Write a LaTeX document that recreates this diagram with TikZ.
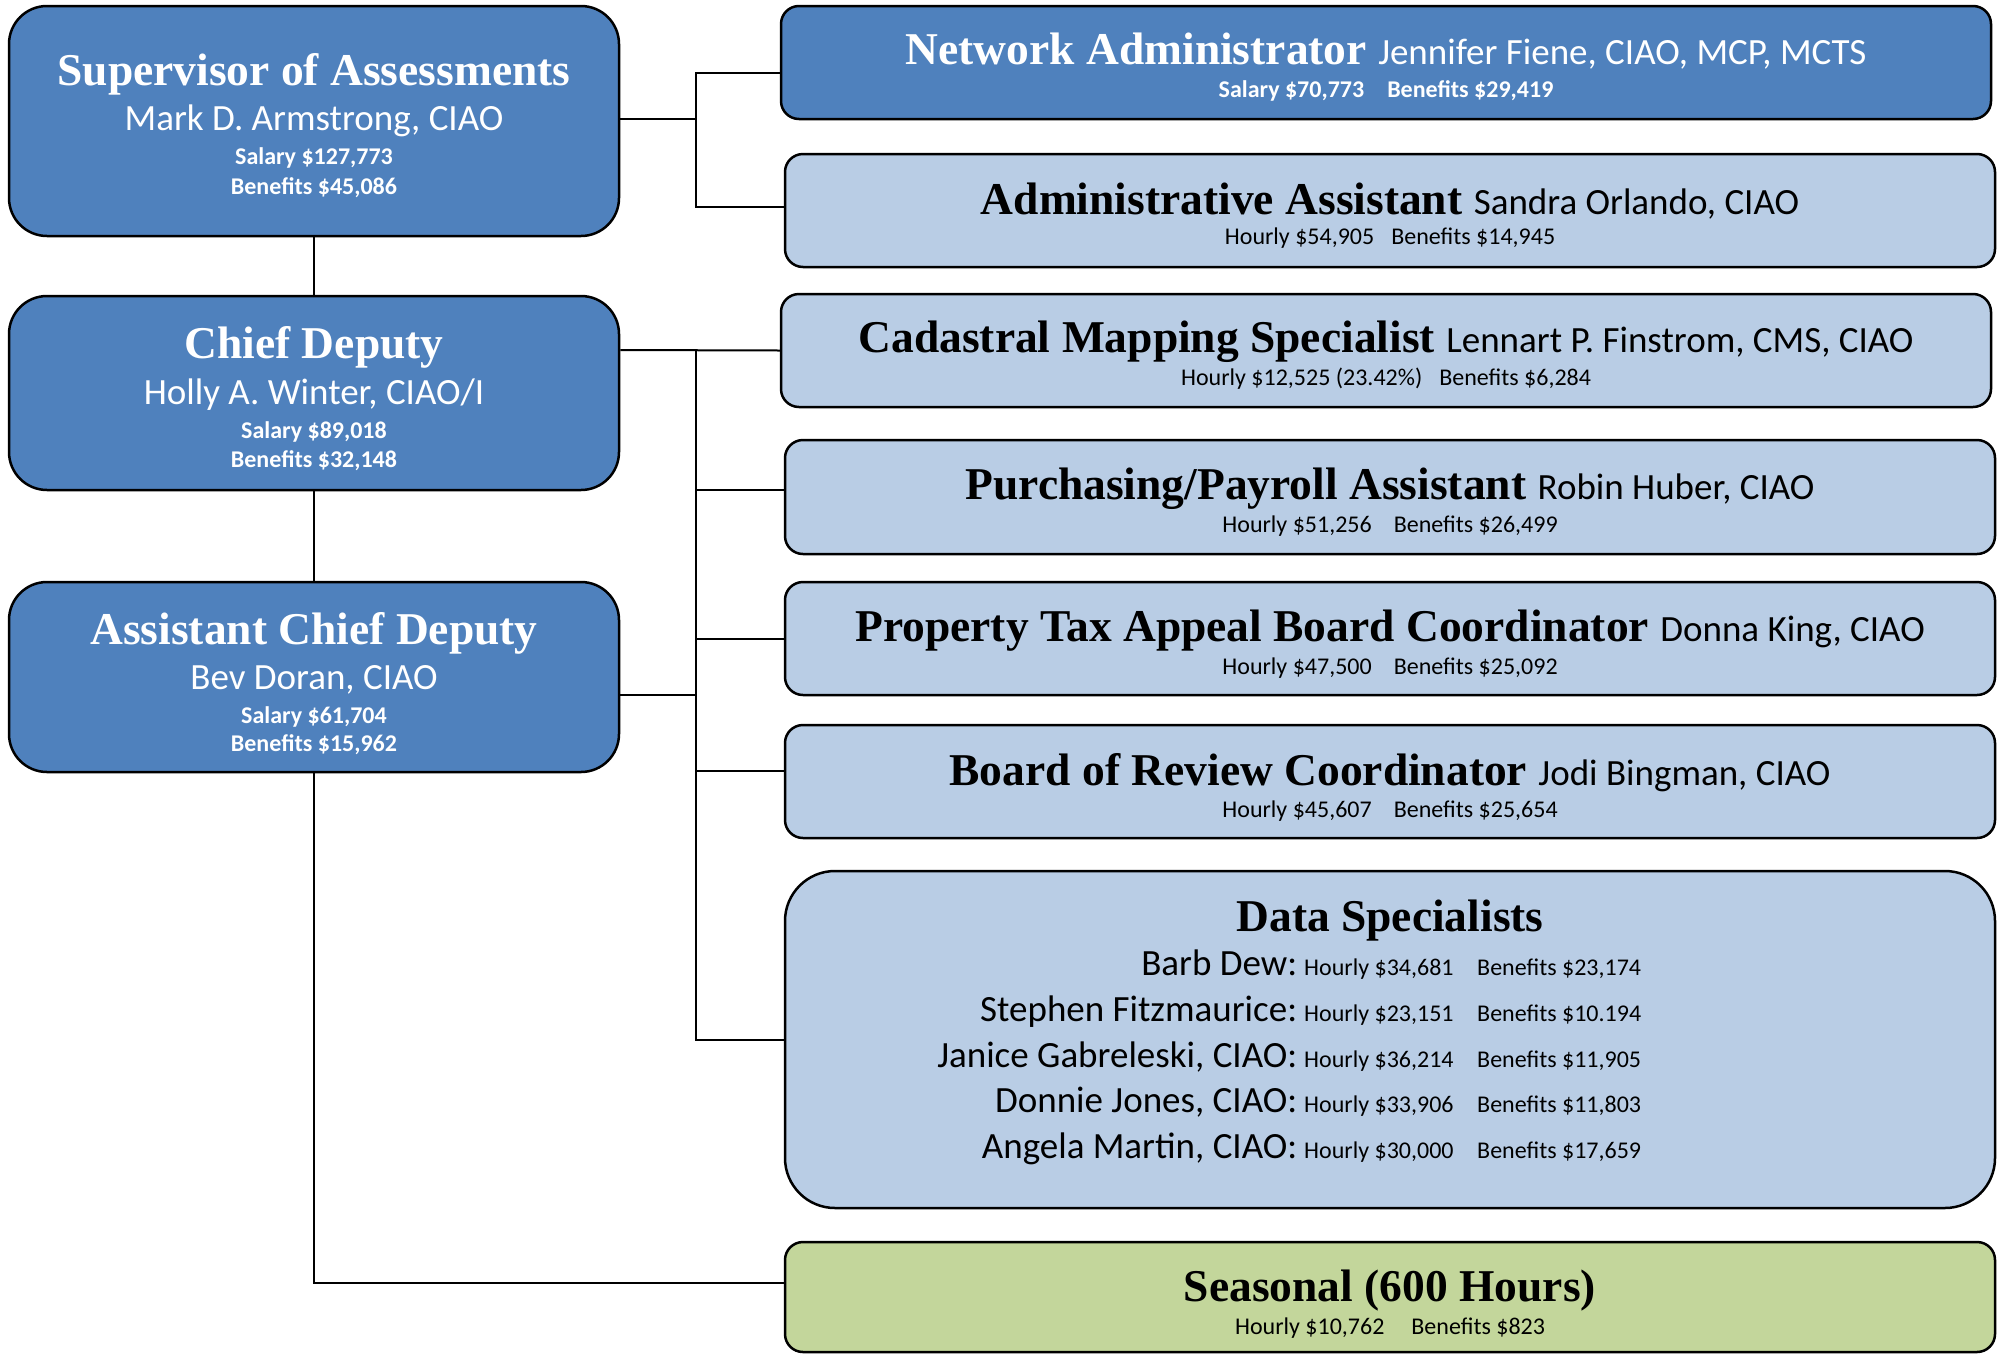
\documentclass[tikz,border=0pt]{standalone}
\usepackage{fontspec}
\setmainfont{Liberation Serif}
\newfontfamily\calfont{Carlito}
\newcommand\mytitle{\rmfamily\bfseries\fontsize{45.5}{50}\selectfont}
\newcommand\myname{\calfont\mdseries\fontsize{37}{40}\selectfont}
\newcommand\mysmall{\calfont\mdseries\fontsize{24}{26}\selectfont}
\newcommand\mysmallb{\calfont\bfseries\fontsize{24}{26}\selectfont}
\definecolor{darkbox}{HTML}{4F81BD}
\definecolor{lightbox}{HTML}{B9CDE5}
\definecolor{greenbox}{HTML}{C3D69B}
\tikzset{
  basebox/.style={draw=black, line width=2.5pt, inner sep=0pt},
  lbox/.style={basebox, fill=darkbox, rounded corners=38pt, minimum width=610pt},
  rdark/.style={basebox, fill=darkbox, rounded corners=18pt, minimum width=1210pt, minimum height=113pt},
  rlight/.style={basebox, fill=lightbox, rounded corners=18pt, minimum width=1210pt, minimum height=113pt},
  rgreen/.style={basebox, fill=greenbox, rounded corners=18pt, minimum width=1210pt, minimum height=110pt},
  wtxt/.style={inner sep=0pt, text=white},
  btxt/.style={inner sep=0pt, text=black},
  rowtxt/.style={inner sep=0pt, text=black, anchor=base west},
  conn/.style={draw=black, line width=2pt}
}
\begin{document}
\begin{tikzpicture}[x=1pt,y=-1pt]
\fill[white] (0,0) rectangle (2001,1355);
\useasboundingbox (0,0) rectangle (2001,1355);

% boxes
\node[lbox, minimum height=230pt] (sup) at (314,121) {};
\node[lbox, minimum height=194pt] (chief) at (314,393) {};
\node[lbox, minimum height=190pt] (asst) at (314,677) {};
\node[rdark] (net) at (1386,62.5) {};
\node[rlight] (adm) at (1390,210.5) {};
\node[rlight] (cad) at (1386,350.5) {};
\node[rlight, minimum height=114pt] (pur) at (1390,497) {};
\node[rlight] (prop) at (1390,638.5) {};
\node[rlight] (bor) at (1390,781.5) {};
\node[rlight, rounded corners=50pt, minimum height=337pt] (data) at (1390,1039.5) {};
\node[rgreen] (seas) at (1390,1297) {};

% bus coordinates
\coordinate (b1) at (696,140);
\coordinate (b2) at (696,350);

% connectors
\draw[conn] ([yshift=2pt]sup.east) -- ([yshift=2pt]sup.east -| b1);
\draw[conn] ([yshift=-10.5pt]net.west) -| (b1) |- ([yshift=3.5pt]adm.west);
\draw[conn] ([yshift=43pt]chief.east) -- (cad.west);
\draw[conn] (b2) |- (data.west);
\draw[conn] ([yshift=7pt]pur.west) -- ([yshift=7pt]pur.west -| b2);
\draw[conn] (prop.west) -- (prop.west -| b2);
\draw[conn] ([yshift=10.5pt]bor.west) -- ([yshift=10.5pt]bor.west -| b2);
\draw[conn] ([yshift=-18pt]asst.east) -- ([yshift=-18pt]asst.east -| b2);
\draw[conn] (sup.south) -- (chief.north);
\draw[conn] (chief.south) -- (asst.north);
\draw[conn] (asst.south) |- ([yshift=14pt]seas.west);

% left box texts
\node[wtxt] (supA) at (314,74) {\mytitle Supervisor of Assessments};
\node[wtxt] (supB) at (314,121) {\myname Mark D. Armstrong, CIAO};
\node[wtxt] (supC) at (314,158) {\mysmallb Salary \$127,773};
\node[wtxt] (supD) at (314,188) {\mysmallb Benefits \$45,086};

\node[wtxt] (chA) at (314,347) {\mytitle Chief Deputy};
\node[wtxt] (chB) at (314,395) {\myname Holly A. Winter, CIAO/I};
\node[wtxt] (chC) at (314,432) {\mysmallb Salary \$89,018};
\node[wtxt] (chD) at (314,461) {\mysmallb Benefits \$32,148};

\node[wtxt] (asA) at (314,633) {\mytitle Assistant Chief Deputy};
\node[wtxt] (asB) at (314,680) {\myname Bev Doran, CIAO};
\node[wtxt] (asC) at (314,717) {\mysmallb Salary \$61,704};
\node[wtxt] (asD) at (314,745) {\mysmallb Benefits \$15,962};

% right box texts
\node[wtxt] (netA) at (1386,51) {{\mytitle Network Administrator }{\myname Jennifer Fiene, CIAO, MCP, MCTS}};
\node[wtxt] (netB) at (1386,91) {\mysmallb Salary \$70,773\hspace{23pt}Benefits \$29,419};

\node[btxt] (admA) at (1390,201) {{\mytitle Administrative Assistant }{\myname Sandra Orlando, CIAO}};
\node[btxt] (admB) at (1390,238) {\mysmall Hourly \$54,905\hspace{17pt}Benefits \$14,945};

\node[btxt] (cadA) at (1386,342) {{\mytitle Cadastral Mapping Specialist }{\myname Lennart P. Finstrom, CMS, CIAO}};
\node[btxt] (cadB) at (1386,379) {\mysmall Hourly \$12,525 (23.42\%)\hspace{17pt}Benefits \$6,284};

\node[btxt] (purA) at (1390,489) {{\mytitle Purchasing/Payroll Assistant }{\myname Robin Huber, CIAO}};
\node[btxt] (purB) at (1390,526) {\mysmall Hourly \$51,256\hspace{22pt}Benefits \$26,499};

\node[btxt] (propA) at (1390,631) {{\mytitle Property Tax Appeal Board Coordinator }{\myname Donna King, CIAO}};
\node[btxt] (propB) at (1390,668) {\mysmall Hourly \$47,500\hspace{22pt}Benefits \$25,092};

\node[btxt] (borA) at (1390,773) {{\mytitle Board of Review Coordinator }{\myname Jodi Bingman, CIAO}};
\node[btxt] (borB) at (1390,811) {\mysmall Hourly \$45,607\hspace{22pt}Benefits \$25,654};

\node[btxt] (dataA) at (1390,921) {\mytitle Data Specialists};
\node[rowtxt] (dr1) at (1297,975) {\llap{\myname Barb Dew:}\hspace{7pt}\makebox[173pt][l]{\mysmall Hourly \$34,681}{\mysmall Benefits \$23,174}};
\node[rowtxt] (dr2) at (1297,1021) {\llap{\myname Stephen Fitzmaurice:}\hspace{7pt}\makebox[173pt][l]{\mysmall Hourly \$23,151}{\mysmall Benefits \$10.194}};
\node[rowtxt] (dr3) at (1297,1067) {\llap{\myname Janice Gabreleski, CIAO:}\hspace{7pt}\makebox[173pt][l]{\mysmall Hourly \$36,214}{\mysmall Benefits \$11,905}};
\node[rowtxt] (dr4) at (1297,1112) {\llap{\myname Donnie Jones, CIAO:}\hspace{7pt}\makebox[173pt][l]{\mysmall Hourly \$33,906}{\mysmall Benefits \$11,803}};
\node[rowtxt] (dr5) at (1297,1158) {\llap{\myname Angela Martin, CIAO:}\hspace{7pt}\makebox[173pt][l]{\mysmall Hourly \$30,000}{\mysmall Benefits \$17,659}};

\node[btxt] (seaA) at (1390,1291) {\mytitle Seasonal (600 Hours)};
\node[btxt] (seaB) at (1390,1328) {\mysmall Hourly \$10,762\hspace{27pt}Benefits \$823};
\end{tikzpicture}
\end{document}
